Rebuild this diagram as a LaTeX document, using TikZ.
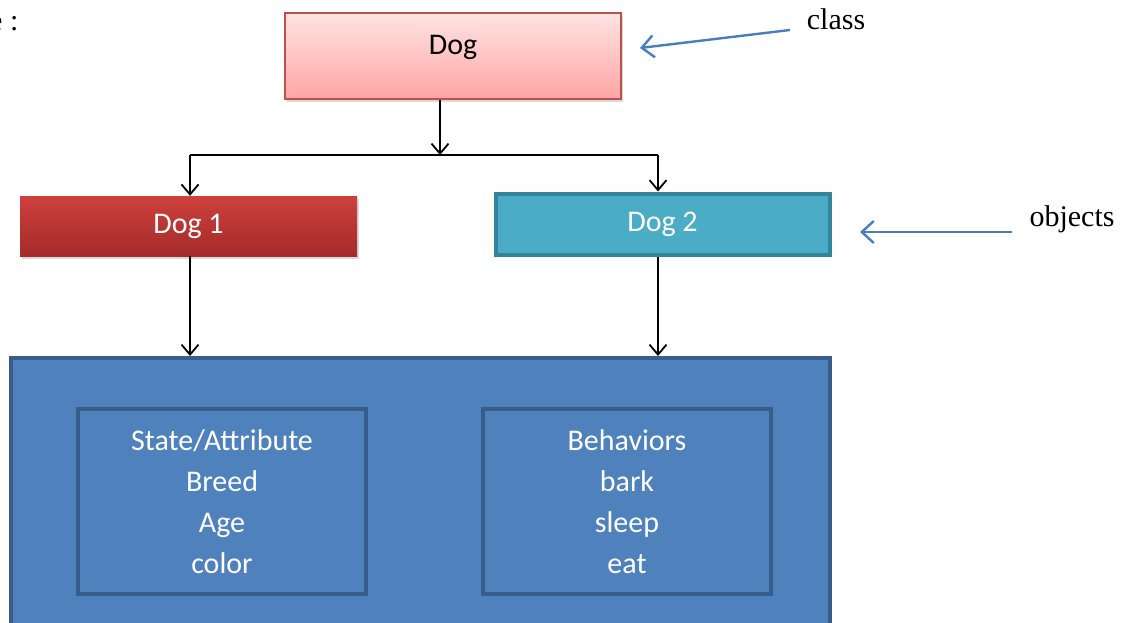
\documentclass[tikz,border=0pt]{standalone}
\usepackage{fontspec}
\setmainfont{Carlito}
\newfontfamily\timesfont{Liberation Serif}
\usetikzlibrary{arrows.meta,shadows}

\definecolor{classtop}{HTML}{FFE3E3}
\definecolor{classbot}{HTML}{FFA5A5}
\definecolor{classline}{HTML}{C0504D}
\definecolor{objatop}{HTML}{CE403D}
\definecolor{objabot}{HTML}{A42B2A}
\definecolor{objbfill}{HTML}{4BACC6}
\definecolor{objbline}{HTML}{31849B}
\definecolor{partfill}{HTML}{4F81BD}
\definecolor{partline}{HTML}{385D8A}
\definecolor{noteblue}{HTML}{4A7EBB}

\begin{document}
\begin{tikzpicture}[
    x=1pt, y=-1pt,
    % boxes
    box/.style={rectangle, inner sep=0pt, align=center, font=\fontsize{30}{41}\selectfont},
    shade/.style={drop shadow={opacity=0.3, shadow xshift=2pt, shadow yshift=-3pt}},
    part/.style={box, fill=partfill, draw=partline, line width=4pt, text=white},
    % connectors
    arr/.style={line width=1.8pt, -{Straight Barb[length=10pt, width=17pt, line width=1.8pt]}},
    note/.style={noteblue, line width=2.4pt, -{Straight Barb[length=12pt, width=22pt, line width=2.4pt]}},
    lbl/.style={font=\timesfont\fontsize{30}{36}\selectfont}
]
  \useasboundingbox (0,0) rectangle (1127,623);
  \clip (0,0) rectangle (1127,623);

  % cut-off heading
  \node[lbl, anchor=base west, inner sep=0pt] (head) at (-11,31) {e :};

  % class box
  \node[box, shade, minimum width=336pt, minimum height=86pt, text depth=22pt, top color=classtop,
        bottom color=classbot, draw=classline, line width=2pt] (dog) at (453,56) {Dog};

  % object boxes
  \node[box, shade, minimum width=337pt, minimum height=60pt, top color=objatop,
        bottom color=objabot, text=white] (dogA) at (188.5,226) {Dog 1};
  \node[box, minimum width=334pt, minimum height=61pt, fill=objbfill, draw=objbline,
        line width=4pt, text=white] (dogB) at (662.5,224) {Dog 2};

  % state and behaviour
  \node[part, minimum width=819pt, minimum height=342pt] (obj) at (420.5,529) {};
  \node[part, minimum width=288pt, minimum height=185pt] (state) at (222,501.5)
    {State/Attribute\\Breed\\Age\\color};
  \node[part, minimum width=288pt, minimum height=185pt] (behav) at (627,501.5)
    {Behaviors\\bark\\sleep\\eat};

  % tree connectors
  \coordinate (fork) at (440,155);
  \coordinate (colA) at (190,155);
  \coordinate (colB) at (658,155);
  \draw[arr] (fork |- dog.south) -- (fork);
  \draw[line width=1.8pt] (colA) -- (colB);
  \draw[arr] (colA) -- (colA |- dogA.north);
  \draw[arr] (colB) -- (colB |- dogB.north);
  \draw[arr] (colA |- dogA.south) -- (colA |- obj.north);
  \draw[arr] (colB |- dogB.south) -- (colB |- obj.north);

  % side notes
  \node[lbl] (classlbl) at (836,19) {class};
  \node[lbl] (objlbl) at (1072,219) {objects};
  \coordinate (classtail) at (790,30);
  \coordinate (classtip) at (640,48);
  \coordinate (objtail) at (1012,232);
  \coordinate (objtip) at (860,232);
  \draw[note] (classtail) -- (classtip);
  \draw[note] (objtail) -- (objtip);

\end{tikzpicture}
\end{document}
